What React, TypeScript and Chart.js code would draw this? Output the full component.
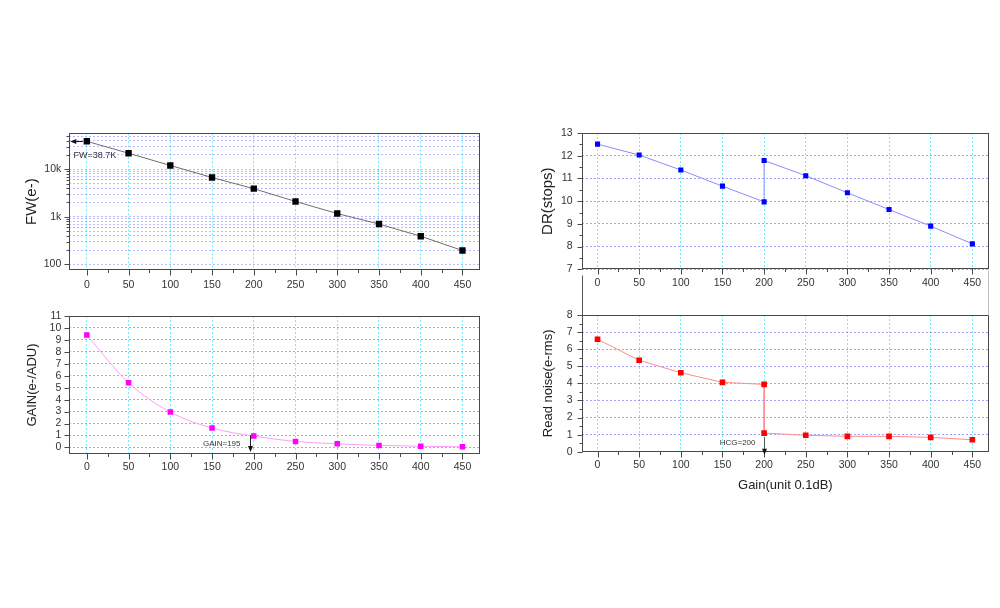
import React, { useEffect, useRef } from "react";
import { Chart, registerables } from "chart.js";

Chart.register(...registerables);

const FONT = "'Liberation Sans', Arial, Helvetica, sans-serif";

// ---- data ----
const gainSteps = [0, 50, 100, 150, 200, 250, 300, 350, 400, 450];
const gainMinorTicks = [25, 75, 125, 175, 225, 275, 325, 375, 425];

const fullWell = [38700, 21700, 12000, 6700, 3900, 2100, 1170, 705, 390, 195];
const fwTickValues = [100, 1000, 10000];
const fwTickLabels = ["100", "1k", "10k"];
const fwMinorValues = [
  200, 300, 400, 500, 600, 700, 800, 900,
  2000, 3000, 4000, 5000, 6000, 7000, 8000, 9000,
  20000, 30000, 40000, 50000,
];

const conversionGain = [9.4, 5.41, 2.96, 1.62, 0.95, 0.5, 0.3, 0.17, 0.1, 0.05];
const conversionGainTicks = [0, 1, 2, 3, 4, 5, 6, 7, 8, 9, 10, 11];

const hcgSteps = [0, 50, 100, 150, 200, 200, 250, 300, 350, 400, 450];
const dynamicRange = [12.51, 12.03, 11.37, 10.66, 9.97, 11.79, 11.12, 10.37, 9.63, 8.9, 8.12];
const dynamicRangeTicks = [7, 8, 9, 10, 11, 12, 13];
const dynamicRangeMinor = [7.5, 8.5, 9.5, 10.5, 11.5, 12.5];

const readNoise = [6.58, 5.35, 4.62, 4.06, 3.94, 1.09, 0.96, 0.9, 0.9, 0.84, 0.7];
const readNoiseTicks = [0, 1, 2, 3, 4, 5, 6, 7, 8];
const readNoiseMinor = [0.5, 1.5, 2.5, 3.5, 4.5, 5.5, 6.5, 7.5];

const fwMarker = { label: "FW=38.7K", value: 38700, textAt: 19700, textX: -16 };
const gainMarker = { label: "GAIN=195", at: 195, from: 1.02, textAt: 0.3 };
const hcgMarker = { label: "HCG=200", at: 200, from: 1.09, textAt: 0.53 };

const V_GRID = "rgba(0,220,255,0.55)";
const H_GRID = "rgba(70,70,255,0.5)";
const H_GRID_LOG = "rgba(70,70,255,0.38)";

type Box = { left: number; top: number; width: number; height: number };
type Area = { l: number; t: number; r: number; b: number };

function framePlugin(cfg: {
  xMajor: number[];
  xMinor: number[];
  yMajor: number[];
  yMinor: number[];
  extra?: (chart: any, ctx: CanvasRenderingContext2D, e: any) => void;
}) {
  return {
    id: "frameTicks",
    afterDatasetsDraw(chart: any) {
      const { ctx, chartArea: a, scales } = chart;
      const x = scales.x;
      const y = scales.y;
      const L = Math.round(a.left) + 0.5;
      const R = Math.round(a.right) - 0.5;
      const T = Math.round(a.top) + 0.5;
      const B = Math.round(a.bottom) - 0.5;
      ctx.save();
      ctx.setLineDash([]);
      ctx.strokeStyle = "#4a4a4a";
      ctx.lineWidth = 1;
      ctx.strokeRect(L, T, R - L, B - T);
      ctx.beginPath();
      for (const v of cfg.xMajor) {
        const px = Math.round(x.getPixelForValue(v)) + 0.5;
        ctx.moveTo(px, B);
        ctx.lineTo(px, B + 6);
      }
      for (const v of cfg.xMinor) {
        const px = Math.round(x.getPixelForValue(v)) + 0.5;
        ctx.moveTo(px, B);
        ctx.lineTo(px, B + 3.5);
      }
      for (const v of cfg.yMajor) {
        const py = Math.round(y.getPixelForValue(v)) + 0.5;
        ctx.moveTo(L, py);
        ctx.lineTo(L - 5, py);
      }
      for (const v of cfg.yMinor) {
        const py = Math.round(y.getPixelForValue(v)) + 0.5;
        ctx.moveTo(L, py);
        ctx.lineTo(L - 3, py);
      }
      ctx.stroke();
      if (cfg.extra) cfg.extra(chart, ctx, { L, R, T, B });
      ctx.restore();
    },
  };
}

type Spec = {
  canvas: Box;
  area: Area;
  xMin: number;
  xMax: number;
  xPad: number;
  yPad: number;
  yScale: any;
  yGrid: string;
  yTitle: { text: string; size: number; center: number };
  xTitle?: { text: string; size: number; centerY: number };
  datasets: any[];
  plugin: any;
};

function makeConfig(p: Spec): any {
  const { canvas, area } = p;
  const yW = area.l - canvas.left;
  const xH = canvas.top + canvas.height - area.b;
  const padTop = area.t - canvas.top;
  const padRight = canvas.left + canvas.width - area.r;
  const yTitleLH = p.yTitle.size * 1.2;
  const xTitle = p.xTitle
    ? {
        display: true,
        text: p.xTitle.text,
        color: "#222",
        font: { family: FONT, size: p.xTitle.size },
        padding: {
          top: 0,
          bottom: canvas.top + canvas.height - p.xTitle.centerY - (p.xTitle.size * 1.2) / 2,
        },
      }
    : { display: false };
  return {
    type: "line",
    data: { datasets: p.datasets },
    options: {
      responsive: false,
      maintainAspectRatio: false,
      animation: false,
      events: [],
      layout: { padding: { top: padTop, right: padRight, left: 0, bottom: 0 } },
      plugins: { legend: { display: false }, tooltip: { enabled: false } },
      scales: {
        x: {
          type: "linear",
          min: p.xMin,
          max: p.xMax,
          afterBuildTicks: (s: any) => {
            s.ticks = gainSteps.map((v) => ({ value: v }));
          },
          afterFit: (s: any) => {
            s.height = xH;
          },
          ticks: {
            padding: p.xPad,
            autoSkip: false,
            maxRotation: 0,
            color: "#333",
            font: { family: FONT, size: 10.5 },
            callback: (v: any) => String(v),
          },
          grid: { color: V_GRID, lineWidth: 1, drawTicks: false },
          border: { display: false, dash: [2, 2] },
          title: xTitle,
        },
        y: {
          ...p.yScale,
          afterFit: (s: any) => {
            s.width = yW;
          },
          ticks: {
            padding: p.yPad,
            autoSkip: false,
            color: "#333",
            font: { family: FONT, size: 10.5 },
            ...(p.yScale.ticks || {}),
          },
          grid: { color: p.yGrid, lineWidth: 1, drawTicks: false },
          border: { display: false, dash: [2, 2] },
          title: {
            display: true,
            text: p.yTitle.text,
            color: "#222",
            font: { family: FONT, size: p.yTitle.size },
            padding: { top: p.yTitle.center - canvas.left - yTitleLH / 2, bottom: 0 },
          },
        },
      },
    },
    plugins: [p.plugin],
  };
}

function linearTicks(values: number[]) {
  return (s: any) => {
    s.ticks = values.map((v) => ({ value: v }));
  };
}

function drawDownArrow(ctx: CanvasRenderingContext2D, ax: number, top: number, bot: number, color: string) {
  ctx.strokeStyle = color;
  ctx.beginPath();
  ctx.moveTo(ax, top);
  ctx.lineTo(ax, bot - 5);
  ctx.stroke();
  ctx.fillStyle = "#111";
  ctx.beginPath();
  ctx.moveTo(ax - 2.5, bot - 6);
  ctx.lineTo(ax + 2.5, bot - 6);
  ctx.lineTo(ax, bot);
  ctx.closePath();
  ctx.fill();
}

const specs: Spec[] = [
  {
    canvas: { left: 0, top: 110, width: 500, height: 190 },
    area: { l: 69.3, t: 133.3, r: 480, b: 270 },
    xMin: -21,
    xMax: 471,
    xPad: 8.7,
    yPad: 8,
    yGrid: H_GRID_LOG,
    yScale: {
      type: "logarithmic",
      min: 76,
      max: 57000,
      afterBuildTicks: (s: any) => {
        s.ticks = [...fwTickValues, ...fwMinorValues]
          .sort((a, b) => a - b)
          .map((v) => ({ value: v }));
      },
      ticks: {
        callback: (v: any) => {
          const i = fwTickValues.indexOf(Number(v));
          return i >= 0 ? fwTickLabels[i] : "";
        },
      },
    },
    yTitle: { text: "FW(e-)", size: 15, center: 32 },
    datasets: [
      {
        data: gainSteps.map((x, i) => ({ x, y: fullWell[i] })),
        borderColor: "#6e6e6e",
        borderWidth: 1,
        pointStyle: "rect",
        pointRadius: 4.5,
        pointBorderWidth: 0,
        pointBackgroundColor: "#000",
        pointBorderColor: "#000",
        tension: 0,
      },
    ],
    plugin: framePlugin({
      xMajor: gainSteps,
      xMinor: gainMinorTicks,
      yMajor: fwTickValues,
      yMinor: fwMinorValues,
      extra: (chart, ctx) => {
        const x = chart.scales.x;
        const y = chart.scales.y;
        const a = chart.chartArea;
        const py = Math.round(y.getPixelForValue(fwMarker.value)) + 0.5;
        const px0 = x.getPixelForValue(gainSteps[0]) - 4;
        ctx.strokeStyle = "#111";
        ctx.beginPath();
        ctx.moveTo(px0, py);
        ctx.lineTo(a.left + 6, py);
        ctx.stroke();
        ctx.fillStyle = "#111";
        ctx.beginPath();
        ctx.moveTo(a.left + 1, py);
        ctx.lineTo(a.left + 7, py - 2.5);
        ctx.lineTo(a.left + 7, py + 2.5);
        ctx.closePath();
        ctx.fill();
        ctx.font = `9px ${FONT}`;
        ctx.fillStyle = "#333";
        ctx.textAlign = "left";
        ctx.textBaseline = "middle";
        ctx.fillText(fwMarker.label, x.getPixelForValue(fwMarker.textX), y.getPixelForValue(fwMarker.textAt));
      },
    }),
  },
  {
    canvas: { left: 0, top: 300, width: 500, height: 180 },
    area: { l: 69.3, t: 316, r: 480, b: 454 },
    xMin: -21,
    xMax: 471,
    xPad: 6.4,
    yPad: 8,
    yGrid: H_GRID,
    yScale: {
      type: "linear",
      min: -0.55,
      max: 11,
      afterBuildTicks: linearTicks(conversionGainTicks),
      ticks: { callback: (v: any) => String(v) },
    },
    yTitle: { text: "GAIN(e-/ADU)", size: 13, center: 32 },
    datasets: [
      {
        data: gainSteps.map((x, i) => ({ x, y: conversionGain[i] })),
        borderColor: "#ff9cff",
        borderWidth: 1,
        pointStyle: "rect",
        pointRadius: 3.9,
        pointBorderWidth: 0,
        pointBackgroundColor: "#ff00ff",
        pointBorderColor: "#ff00ff",
        cubicInterpolationMode: "monotone",
        tension: 0.4,
      },
    ],
    plugin: framePlugin({
      xMajor: gainSteps,
      xMinor: gainMinorTicks,
      yMajor: conversionGainTicks,
      yMinor: [],
      extra: (chart, ctx) => {
        const x = chart.scales.x;
        const y = chart.scales.y;
        const a = chart.chartArea;
        const ax = Math.round(x.getPixelForValue(gainMarker.at)) + 0.5;
        drawDownArrow(ctx, ax, y.getPixelForValue(gainMarker.from), a.bottom - 2, "#222");
        ctx.font = `8px ${FONT}`;
        ctx.fillStyle = "#333";
        ctx.textAlign = "right";
        ctx.textBaseline = "middle";
        ctx.fillText(gainMarker.label, ax - 10, y.getPixelForValue(gainMarker.textAt));
      },
    }),
  },
  {
    canvas: { left: 510, top: 110, width: 490, height: 190 },
    area: { l: 581.7, t: 133, r: 989, b: 269.3 },
    xMin: -19,
    xMax: 470,
    xPad: 7.7,
    yPad: 9,
    yGrid: H_GRID,
    yScale: {
      type: "linear",
      min: 7,
      max: 13,
      afterBuildTicks: linearTicks(dynamicRangeTicks),
      ticks: { callback: (v: any) => String(v) },
    },
    yTitle: { text: "DR(stops)", size: 15, center: 548 },
    datasets: [
      {
        data: hcgSteps.map((x, i) => ({ x, y: dynamicRange[i] })),
        borderColor: "#8c8cff",
        borderWidth: 1,
        pointStyle: "rect",
        pointRadius: 3.6,
        pointBorderWidth: 0,
        pointBackgroundColor: "#0000ff",
        pointBorderColor: "#0000ff",
        tension: 0,
      },
    ],
    plugin: framePlugin({
      xMajor: gainSteps,
      xMinor: gainMinorTicks,
      yMajor: dynamicRangeTicks,
      yMinor: dynamicRangeMinor,
    }),
  },
  {
    canvas: { left: 510, top: 265, width: 490, height: 235 },
    area: { l: 581.7, t: 315, r: 989, b: 451.7 },
    xMin: -19,
    xMax: 470,
    xPad: 7,
    yPad: 9,
    yGrid: H_GRID,
    yScale: {
      type: "linear",
      min: 0,
      max: 8,
      afterBuildTicks: linearTicks(readNoiseTicks),
      ticks: { callback: (v: any) => String(v) },
    },
    yTitle: { text: "Read noise(e-rms)", size: 13, center: 548 },
    xTitle: { text: "Gain(unit 0.1dB)", size: 13, centerY: 485 },
    datasets: [
      {
        data: hcgSteps.map((x, i) => ({ x, y: readNoise[i] })),
        borderColor: "#ff8c8c",
        borderWidth: 1,
        pointStyle: "rect",
        pointRadius: 4,
        pointBorderWidth: 0,
        pointBackgroundColor: "#ff0000",
        pointBorderColor: "#ff0000",
        tension: 0,
      },
    ],
    plugin: framePlugin({
      xMajor: gainSteps,
      xMinor: gainMinorTicks,
      yMajor: readNoiseTicks,
      yMinor: readNoiseMinor,
      extra: (chart, ctx, e) => {
        const x = chart.scales.x;
        const y = chart.scales.y;
        const a = chart.chartArea;
        // frame extensions above the panel
        ctx.strokeStyle = "#555";
        ctx.beginPath();
        ctx.moveTo(e.L, e.T - 40);
        ctx.lineTo(e.L, e.T);
        ctx.stroke();
        ctx.strokeStyle = "#bdbdbd";
        ctx.beginPath();
        ctx.moveTo(e.R, e.T - 45);
        ctx.lineTo(e.R, e.T);
        ctx.stroke();
        // HCG arrow
        const ax = Math.round(x.getPixelForValue(hcgMarker.at)) + 0.5;
        drawDownArrow(ctx, ax, y.getPixelForValue(hcgMarker.from) + 4, a.bottom + 3, "#555");
        ctx.font = `8px ${FONT}`;
        ctx.fillStyle = "#333";
        ctx.textAlign = "right";
        ctx.textBaseline = "middle";
        ctx.fillText(hcgMarker.label, ax - 9, y.getPixelForValue(hcgMarker.textAt));
      },
    }),
  },
];

function Panel({ spec }: { spec: Spec }) {
  const ref = useRef<HTMLCanvasElement | null>(null);
  useEffect(() => {
    if (!ref.current) return;
    const chart = new Chart(ref.current, makeConfig(spec));
    return () => chart.destroy();
  }, [spec]);
  const c = spec.canvas;
  return (
    <canvas
      ref={ref}
      width={c.width}
      height={c.height}
      style={{
        position: "absolute",
        left: c.left,
        top: c.top,
        width: c.width,
        height: c.height,
      }}
    />
  );
}

export default function App() {
  return (
    <div
      style={{
        position: "absolute",
        left: 0,
        top: 0,
        width: 1000,
        height: 608,
        background: "#fff",
        overflow: "hidden",
      }}
    >
      {specs.map((s, i) => (
        <Panel key={i} spec={s} />
      ))}
    </div>
  );
}
